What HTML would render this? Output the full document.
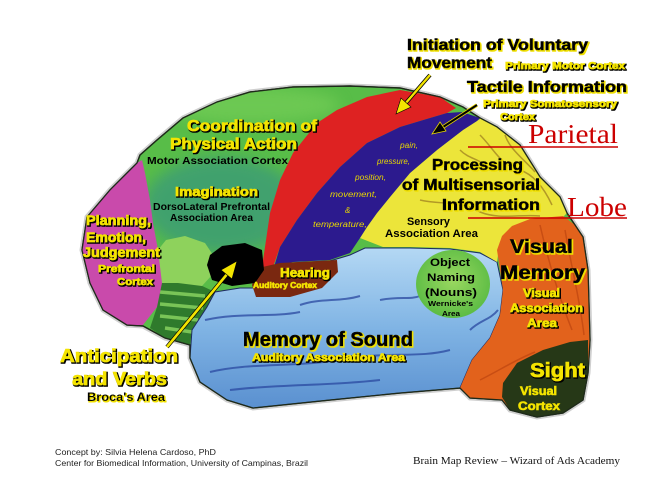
<!DOCTYPE html>
<html><head><meta charset="utf-8">
<style>
html,body{margin:0;padding:0;background:#fff;}
body{width:656px;height:487px;overflow:hidden;}
svg{display:block;}
.b{font-family:"Liberation Sans",Arial,sans-serif;font-weight:bold;}
.yt{fill:#f4e400;stroke:#f4e400;stroke-width:0.6;}
.kt{fill:#000;stroke:#000;stroke-width:0.6;}
.it{font-family:"Liberation Sans",Arial,sans-serif;font-style:italic;fill:#e8d800;font-size:8px;}
</style></head>
<body>
<svg width="656" height="487" viewBox="0 0 656 487" xmlns="http://www.w3.org/2000/svg">
<defs>
 <filter id="sk" x="-10%" y="-40%" width="130%" height="190%">
  <feMorphology in="SourceAlpha" operator="dilate" radius="0.6" result="d"/>
  <feOffset in="d" dx="1.2" dy="1.2" result="o"/>
  <feFlood flood-color="#000"/>
  <feComposite in2="o" operator="in" result="s"/>
  <feMerge><feMergeNode in="s"/><feMergeNode in="SourceGraphic"/></feMerge>
 </filter>
 <filter id="sy" x="-10%" y="-40%" width="130%" height="190%">
  <feMorphology in="SourceAlpha" operator="dilate" radius="0.5" result="d"/>
  <feOffset in="d" dx="1.2" dy="1.2" result="o"/>
  <feFlood flood-color="#f0e000"/>
  <feComposite in2="o" operator="in" result="s"/>
  <feMerge><feMergeNode in="s"/><feMergeNode in="SourceGraphic"/></feMerge>
 </filter>
 <filter id="bl" x="-30%" y="-30%" width="160%" height="160%"><feGaussianBlur stdDeviation="7"/></filter>
 <radialGradient id="wg" cx="50%" cy="45%" r="55%">
  <stop offset="0" stop-color="#9ad860"/><stop offset="1" stop-color="#5cbc44"/>
 </radialGradient>
 <linearGradient id="tg" x1="0" y1="0" x2="0" y2="1">
  <stop offset="0" stop-color="#b4d8f4"/><stop offset="0.5" stop-color="#80b4e4"/><stop offset="1" stop-color="#5a90d0"/>
 </linearGradient>
 <clipPath id="brainclip"><path id="bp" d="M140,155 L157,140 L183,118 L217,102 L250,92 L293,87 L350,86 L400,88 L440,97 L463,107 L480,118 L497,127 L520,145 L540,177 L560,197 L567,213 L575,225 L583,237 L588,270 L590,340 L588,373 L583,400 L563,413 L537,417 L510,410 L502,400 L470,398 L460,388 L400,393 L330,400 L253,408 L227,400 L200,382 L190,358 L190,345 L165,338 L143,326 L127,325 L103,310 L90,283 L82,250 L87,217 L110,190 L137,163 Z"/></clipPath>
</defs>

<use href="#bp" fill="none" stroke="#cfcfcf" stroke-width="5"/>
<use href="#bp" fill="#58bd48" stroke="#1e2a1a" stroke-width="1.4"/>

<g clip-path="url(#brainclip)">
 <ellipse cx="222" cy="205" rx="78" ry="48" fill="#3e9d74" opacity="0.85" filter="url(#bl)"/>
 <ellipse cx="250" cy="105" rx="90" ry="18" fill="#7ad05a" opacity="0.6" filter="url(#bl)"/>

 <path d="M156,282 L175,280 L200,285 L215,292 L207,307 L192,330 L190,345 L165,338 L150,328 L157,307 Z" fill="#2f7a2c"/>
 <g stroke="#82cc5c" stroke-width="3.5" fill="none" opacity="0.9">
  <path d="M160,292 L205,296"/><path d="M160,304 L203,308"/><path d="M160,316 L198,320"/><path d="M165,328 L192,332"/>
 </g>
 <path d="M158,250 L166,240 L185,236 L205,243 L213,255 L212,275 L202,286 L178,283 L160,283 Z" fill="#8ed25c"/>

 <!-- light blue temporal -->
 <path d="M268,268 L293,263 L330,261 L350,255 L365,248 L410,248 L450,249 L480,253 L497,262 L503,290 L500,315 L490,338 L472,360 L460,388 L400,393 L330,400 L253,408 L227,400 L200,382 L190,358 L192,330 L207,307 L215,292 L240,288 L258,288 Z" fill="url(#tg)" stroke="#1e2a60" stroke-width="1"/>
 <g stroke="#2a48a0" stroke-width="2" fill="none" opacity="0.75">
  <path d="M205,320 C240,312 270,318 300,312"/>
  <path d="M210,372 C250,362 300,368 350,358 C390,352 420,358 450,350"/>
  <path d="M230,390 C280,384 330,386 380,380"/>
  <path d="M380,300 C400,296 410,300 420,296"/>
  <path d="M300,305 C320,298 340,302 360,296"/>
  <path d="M470,330 C480,320 490,320 498,310"/>
 </g>

 <!-- yellow parietal -->
 <path d="M478,116 L497,127 L520,145 L540,177 L560,197 L567,213 L563,217 L530,220 L510,228 L500,242 L497,262 L480,252 L450,248 L410,247 L383,247 L360,238 L367,227 L377,213 L390,197 L410,173 L437,150 L463,130 L480,119 Z" fill="#ece53a"/>
 <g stroke="#9a7a1e" stroke-width="1.5" fill="none" opacity="0.7">
  <path d="M480,135 C495,150 500,165 520,170 C535,175 545,190 552,205"/>
  <path d="M505,135 C510,150 525,160 535,172"/>
  <path d="M460,150 C470,160 480,158 490,170"/>
  <path d="M420,200 C440,205 460,200 480,212 C500,220 520,214 540,216"/>
 </g>

 <!-- orange -->
 <path d="M497,250 L502,236 L512,226 L530,219 L563,216 L575,225 L583,237 L588,270 L590,340 L588,373 L583,400 L563,413 L537,417 L510,410 L502,400 L470,398 L460,388 L472,360 L490,338 L500,315 L503,290 Z" fill="#e2621c"/>
 <g stroke="#b8400e" stroke-width="1.5" fill="none" opacity="0.6">
  <path d="M540,225 C548,260 560,300 572,330"/><path d="M565,230 C572,270 580,300 584,335"/>
  <path d="M480,380 C500,370 515,360 535,352"/>
 </g>

 <!-- sight -->
 <path d="M503,383 L517,363 L543,350 L570,342 L588,340 L588,373 L583,400 L563,413 L537,417 L510,410 L502,397 Z" fill="#263817"/>

 <!-- red motor strip -->
 <path d="M367,97 L400,90 L440,97 L456,108 L447,113 L430,118 L400,127 L367,143 L340,167 L317,193 L297,220 L280,247 L273,267 L265,283 L258,285 L262,267 L265,247 L270,213 L280,180 L293,153 L317,123 L337,110 Z" fill="#de2222"/>

 <!-- blue somatosensory -->
 <path d="M447,113 L462,112 L480,118 L477,121 L463,130 L437,150 L410,173 L390,197 L377,213 L367,227 L360,238 L350,253 L330,260 L293,262 L274,267 L280,247 L297,220 L317,193 L340,167 L367,143 L400,127 L430,118 Z" fill="#2c1a8e"/>

 <!-- hearing -->
 <path d="M252,285 L258,268 L280,263 L337,260 L338,272 L322,288 L290,297 L256,297 Z" fill="#7a2810"/>

 <!-- broca black -->
 <path d="M210,255 L222,246 L245,243 L262,250 L264,270 L255,283 L232,286 L212,280 L207,265 Z" fill="#000"/>

 <!-- wernicke -->
 <ellipse cx="453" cy="284" rx="37" ry="34" fill="url(#wg)"/>

 <!-- magenta prefrontal -->
 <path d="M142,160 L145,173 L150,200 L153,223 L158,250 L162,283 L157,307 L143,325 L127,325 L103,310 L90,283 L82,250 L87,217 L110,190 L137,163 Z" fill="#c94aab"/>
</g>
<use href="#bp" fill="none" stroke="#1e2a1a" stroke-width="1.2"/>

<!-- arrows -->
<g>
 <line x1="430" y1="75" x2="405" y2="104" stroke="#000" stroke-width="4"/>
 <line x1="430" y1="75" x2="405" y2="104" stroke="#f2e400" stroke-width="2.4"/>
 <polygon points="396,114 411,107 401,98" fill="#f2e400" stroke="#000" stroke-width="0.6"/>

 <line x1="477" y1="105" x2="443" y2="127" stroke="#e8d800" stroke-width="3.6"/>
 <line x1="477" y1="105" x2="443" y2="127" stroke="#000" stroke-width="2"/>
 <polygon points="432,134 446,131 440,122" fill="#000" stroke="#e8d800" stroke-width="0.8"/>

 <line x1="167" y1="347" x2="228" y2="273" stroke="#000" stroke-width="4"/>
 <line x1="167" y1="347" x2="228" y2="273" stroke="#f2e400" stroke-width="2.6"/>
 <polygon points="237,261 232,279 221,270" fill="#f2e400" stroke="#000" stroke-width="0.6"/>
</g>

<!-- top labels -->
<text class="b kt" x="407" y="50" font-size="16" textLength="181" lengthAdjust="spacingAndGlyphs" filter="url(#sy)">Initiation of Voluntary</text>
<text class="b kt" x="407" y="68" font-size="16" textLength="85" lengthAdjust="spacingAndGlyphs" filter="url(#sy)">Movement</text>
<text class="b yt" x="505" y="69" font-size="10" textLength="120" lengthAdjust="spacingAndGlyphs" filter="url(#sk)">Primary Motor Cortex</text>
<text class="b kt" x="467" y="92" font-size="16" textLength="160" lengthAdjust="spacingAndGlyphs" filter="url(#sy)">Tactile Information</text>
<text class="b yt" x="483" y="107" font-size="10" textLength="134" lengthAdjust="spacingAndGlyphs" filter="url(#sk)">Primary Somatosensory</text>
<text class="b yt" x="500" y="120" font-size="10" textLength="35" lengthAdjust="spacingAndGlyphs" filter="url(#sk)">Cortex</text>

<!-- Parietal Lobe -->
<text x="528" y="143" font-family="'Liberation Serif',serif" font-size="27" fill="#cc0000" textLength="90" lengthAdjust="spacingAndGlyphs">Parietal</text>
<line x1="468" y1="147" x2="618" y2="147" stroke="#cc0000" stroke-width="1.5"/>
<text x="567" y="216" font-family="'Liberation Serif',serif" font-size="27" fill="#cc0000" textLength="60" lengthAdjust="spacingAndGlyphs">Lobe</text>
<line x1="468" y1="218" x2="627" y2="218" stroke="#cc0000" stroke-width="1.5"/>

<!-- parietal text -->
<text class="b kt" x="432" y="170" font-size="16" textLength="91" lengthAdjust="spacingAndGlyphs" filter="url(#sy)">Processing</text>
<text class="b kt" x="402" y="190" font-size="16" textLength="138" lengthAdjust="spacingAndGlyphs" filter="url(#sy)">of Multisensorial</text>
<text class="b kt" x="442" y="210" font-size="16" textLength="98" lengthAdjust="spacingAndGlyphs" filter="url(#sy)">Information</text>
<text class="b" x="407" y="225" font-size="11" fill="#000" textLength="43" lengthAdjust="spacingAndGlyphs">Sensory</text>
<text class="b" x="385" y="237" font-size="11" fill="#000" textLength="93" lengthAdjust="spacingAndGlyphs">Association Area</text>

<!-- somatosensory italics -->
<text class="it" x="400" y="148" textLength="18" lengthAdjust="spacingAndGlyphs">pain,</text>
<text class="it" x="377" y="164" textLength="33" lengthAdjust="spacingAndGlyphs">pressure,</text>
<text class="it" x="355" y="180" textLength="31" lengthAdjust="spacingAndGlyphs">position,</text>
<text class="it" x="330" y="197" textLength="47" lengthAdjust="spacingAndGlyphs">movement,</text>
<text class="it" x="345" y="213">&amp;</text>
<text class="it" x="313" y="227" textLength="54" lengthAdjust="spacingAndGlyphs">temperature,</text>

<!-- frontal labels -->
<text class="b yt" x="187" y="131" font-size="16" textLength="130" lengthAdjust="spacingAndGlyphs" filter="url(#sk)">Coordination of</text>
<text class="b yt" x="170" y="149" font-size="16" textLength="127" lengthAdjust="spacingAndGlyphs" filter="url(#sk)">Physical Action</text>
<text class="b" x="147" y="164" font-size="10.5" fill="#000" textLength="141" lengthAdjust="spacingAndGlyphs">Motor Association Cortex</text>
<text class="b yt" x="175" y="196" font-size="13" textLength="83" lengthAdjust="spacingAndGlyphs" filter="url(#sk)">Imagination</text>
<text class="b" x="153" y="210" font-size="10" fill="#000" textLength="117" lengthAdjust="spacingAndGlyphs">DorsoLateral Prefrontal</text>
<text class="b" x="170" y="221" font-size="10" fill="#000" textLength="83" lengthAdjust="spacingAndGlyphs">Association Area</text>

<text class="b yt" x="86" y="225" font-size="14" textLength="65" lengthAdjust="spacingAndGlyphs" filter="url(#sk)">Planning,</text>
<text class="b yt" x="86" y="242" font-size="14" textLength="60" lengthAdjust="spacingAndGlyphs" filter="url(#sk)">Emotion,</text>
<text class="b yt" x="83" y="257" font-size="14" textLength="77" lengthAdjust="spacingAndGlyphs" filter="url(#sk)">Judgement</text>
<text class="b yt" x="98" y="272" font-size="10.5" textLength="57" lengthAdjust="spacingAndGlyphs" filter="url(#sk)">Prefrontal</text>
<text class="b yt" x="117" y="285" font-size="10.5" textLength="36" lengthAdjust="spacingAndGlyphs" filter="url(#sk)">Cortex</text>

<text class="b yt" x="60" y="362" font-size="18" textLength="118" lengthAdjust="spacingAndGlyphs" filter="url(#sk)">Anticipation</text>
<text class="b yt" x="72" y="385" font-size="18" textLength="95" lengthAdjust="spacingAndGlyphs" filter="url(#sk)">and Verbs</text>
<text class="b" x="87" y="401" font-size="11.5" fill="#000" textLength="78" lengthAdjust="spacingAndGlyphs" filter="url(#sy)">Broca's Area</text>

<!-- temporal labels -->
<text class="b yt" x="280" y="277" font-size="13" textLength="50" lengthAdjust="spacingAndGlyphs" filter="url(#sk)">Hearing</text>
<text class="b yt" x="253" y="288" font-size="8" textLength="64" lengthAdjust="spacingAndGlyphs">Auditory Cortex</text>
<text class="b kt" x="243" y="346" font-size="20" textLength="170" lengthAdjust="spacingAndGlyphs" filter="url(#sy)">Memory of Sound</text>
<text class="b yt" x="252" y="361" font-size="11" textLength="153" lengthAdjust="spacingAndGlyphs" filter="url(#sk)">Auditory Association Area</text>

<text class="b" x="430" y="266" font-size="11" fill="#000" textLength="40" lengthAdjust="spacingAndGlyphs">Object</text>
<text class="b" x="427" y="281" font-size="11" fill="#000" textLength="48" lengthAdjust="spacingAndGlyphs">Naming</text>
<text class="b" x="425" y="296" font-size="11" fill="#000" textLength="52" lengthAdjust="spacingAndGlyphs">(Nouns)</text>
<text class="b" x="428" y="306" font-size="7.5" fill="#000" textLength="45" lengthAdjust="spacingAndGlyphs">Wernicke's</text>
<text class="b" x="442" y="316" font-size="7.5" fill="#000" textLength="18" lengthAdjust="spacingAndGlyphs">Area</text>

<!-- occipital labels -->
<text class="b kt" x="510" y="253" font-size="19" textLength="63" lengthAdjust="spacingAndGlyphs" filter="url(#sy)">Visual</text>
<text class="b kt" x="500" y="279" font-size="19" textLength="85" lengthAdjust="spacingAndGlyphs" filter="url(#sy)">Memory</text>
<text class="b yt" x="523" y="297" font-size="11.5" textLength="37" lengthAdjust="spacingAndGlyphs" filter="url(#sk)">Visual</text>
<text class="b yt" x="510" y="312" font-size="11.5" textLength="73" lengthAdjust="spacingAndGlyphs" filter="url(#sk)">Association</text>
<text class="b yt" x="527" y="327" font-size="11.5" textLength="30" lengthAdjust="spacingAndGlyphs" filter="url(#sk)">Area</text>
<text class="b yt" x="530" y="377" font-size="20" textLength="55" lengthAdjust="spacingAndGlyphs" filter="url(#sk)">Sight</text>
<text class="b yt" x="520" y="395" font-size="11.5" textLength="37" lengthAdjust="spacingAndGlyphs">Visual</text>
<text class="b yt" x="518" y="410" font-size="11.5" textLength="42" lengthAdjust="spacingAndGlyphs">Cortex</text>

<!-- credits -->
<text x="55" y="455" font-family="'Liberation Sans',sans-serif" font-size="8.5" fill="#222" textLength="161" lengthAdjust="spacingAndGlyphs">Concept by: Silvia Helena Cardoso, PhD</text>
<text x="55" y="466" font-family="'Liberation Sans',sans-serif" font-size="8.5" fill="#222" textLength="253" lengthAdjust="spacingAndGlyphs">Center for Biomedical Information, University of Campinas, Brazil</text>
<text x="413" y="464" font-family="'Liberation Serif',serif" font-size="11" fill="#111" textLength="207" lengthAdjust="spacingAndGlyphs">Brain Map Review – Wizard of Ads Academy</text>
</svg>
</body></html>
